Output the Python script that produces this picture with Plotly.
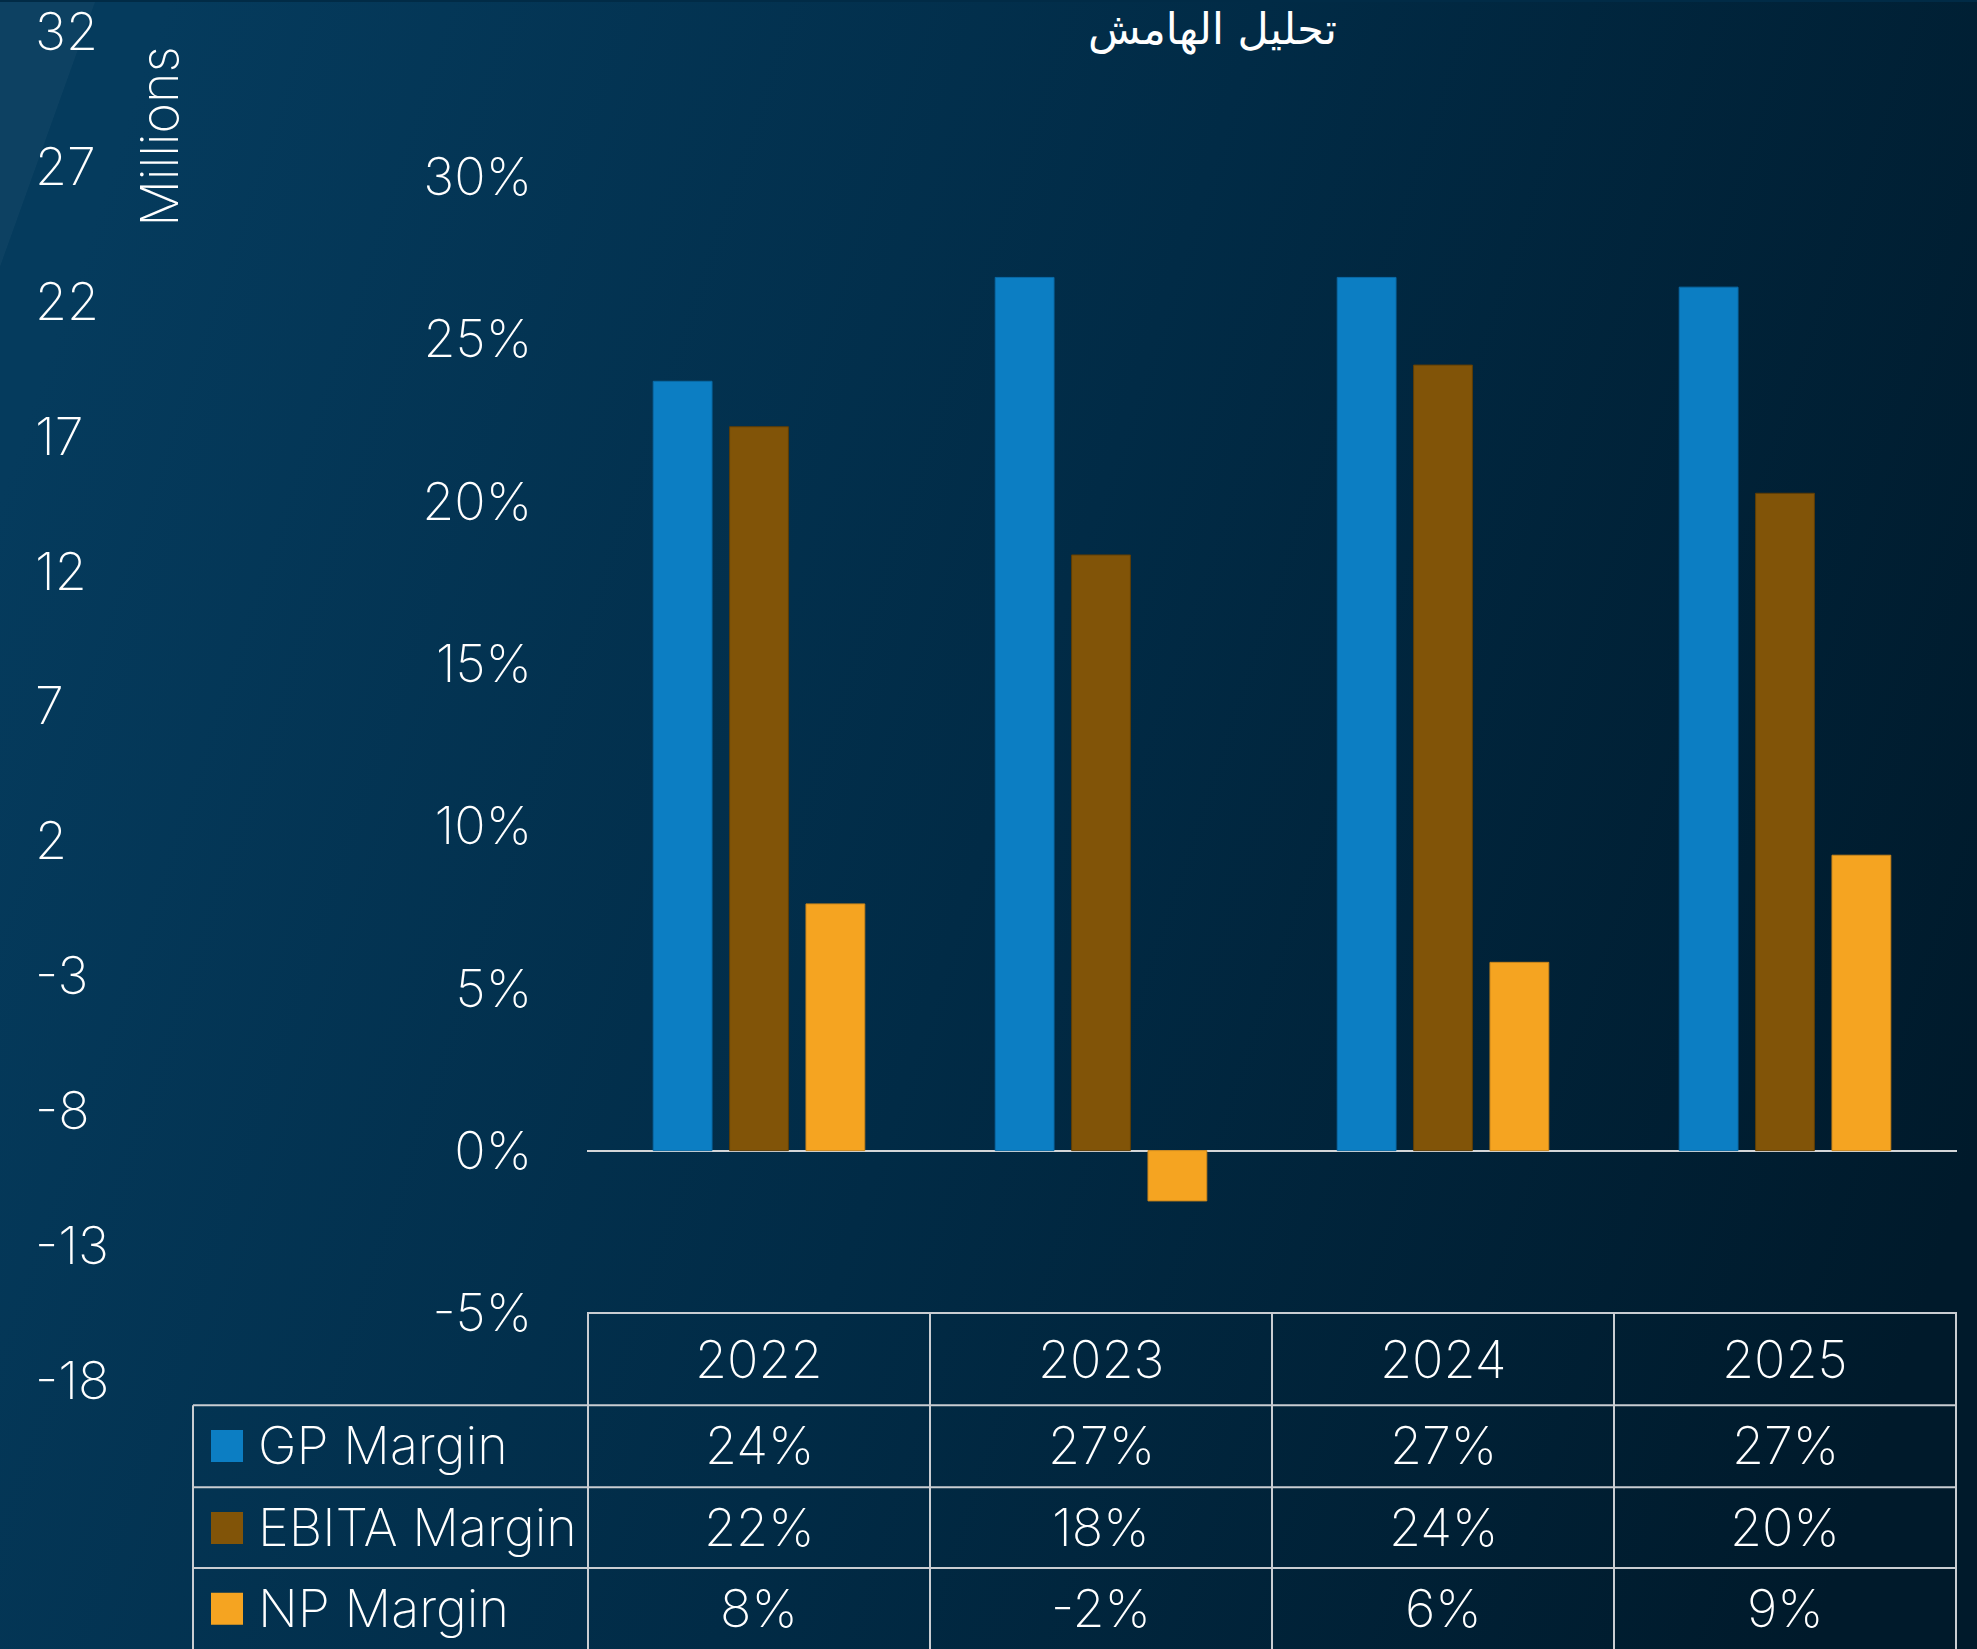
import base64
import plotly.graph_objects as go

# ---------------- data ----------------
years = ["2022", "2023", "2024", "2025"]
series_names = ["GP Margin", "EBITA Margin", "NP Margin"]
gp_margin = [23.7, 26.9, 26.9, 26.6]
ebita_margin = [22.3, 18.35, 24.2, 20.25]
np_margin = [7.6, -1.55, 5.8, 9.1]
pct_ticks = [-5, 0, 5, 10, 15, 20, 25, 30]
millions_ticks = [32, 27, 22, 17, 12, 7, 2, -3, -8, -13, -18]
title_text = "تحليل الهامش"
millions_title = "Millions"

# ---------------- style ----------------
W, H = 1977, 1649
colors = ["#0c7ec3", "#815408", "#f5a421"]
line_colors = ["#0a6aa6", "#5e3d05", "#c9851a"]
grid_col = "#c9cdd2"
FONT = "Inter"
FW = 200
FS = 52

X0, X1 = 587, 1957          # plot area in px
LEG_X0 = 193                 # left of legend column


def px_x(p):
    return p / W


def px_y(p):
    return 1 - p / H


# primary axis: 0% at y=1150 px, 32.5 px per percent
zero_px, per_pct = 1150, 32.5
y_range = [(zero_px - H) / per_pct, zero_px / per_pct]
# secondary axis: 32 at y=30 px, 27 px per unit
top_val_px, per_unit = 30, 27.0
y2_range = [32 - (H - top_val_px) / per_unit, 32 + top_val_px / per_unit]

# background gradient as SVG
svg = f'''<svg xmlns="http://www.w3.org/2000/svg" width="{W}" height="{H}" viewBox="0 0 {W} {H}">
<defs><linearGradient id="g" gradientUnits="userSpaceOnUse" x1="0" y1="495" x2="{W}" y2="1155">
<stop offset="0" stop-color="#053b5d"/>
<stop offset="0.5" stop-color="#012b46"/>
<stop offset="1" stop-color="#001a2b"/>
</linearGradient></defs>
<rect width="{W}" height="{H}" fill="url(#g)"/>
<path d="M0,0 L95,0 L0,265 Z" fill="#ffffff" fill-opacity="0.035"/>
</svg>'''
bg_src = "data:image/svg+xml;base64," + base64.b64encode(svg.encode()).decode()

fig = go.Figure()
for name, vals, c, lc in zip(series_names, [gp_margin, ebita_margin, np_margin], colors, line_colors):
    fig.add_trace(go.Bar(x=years, y=vals, name=name, marker=dict(color=c, line=dict(color=lc, width=1)),
                         showlegend=False, hoverinfo="skip"))
fig.add_trace(go.Scatter(x=[], y=[], yaxis="y2", showlegend=False, hoverinfo="skip"))

shapes = []
annotations = []
lw = dict(color=grid_col, width=2)
tfont = dict(family=FONT, size=FS, color="white", weight=FW)

# table geometry (px)
header_top = zero_px - pct_ticks[0] * per_pct  # aligned with -5%
row_lines = [1405, 1487, 1568]
row_h = 81.5

# horizontal lines
shapes.append(dict(type="line", xref="paper", yref="paper", x0=px_x(X0), x1=px_x(X1),
                   y0=px_y(header_top), y1=px_y(header_top), line=lw))
for r in row_lines:
    shapes.append(dict(type="line", xref="paper", yref="paper", x0=px_x(LEG_X0), x1=px_x(X1),
                       y0=px_y(r), y1=px_y(r), line=lw))
# vertical lines
for i in range(len(years) + 1):
    shapes.append(dict(type="line", xref="x", yref="paper", x0=i - 0.5, x1=i - 0.5,
                       y0=px_y(header_top), y1=0, line=lw))
shapes.append(dict(type="line", xref="paper", yref="paper", x0=px_x(LEG_X0), x1=px_x(LEG_X0),
                   y0=px_y(row_lines[0]), y1=0, line=lw))

# header years
for i, yr in enumerate(years):
    annotations.append(dict(x=i, xref="x", y=px_y((header_top + row_lines[0]) / 2), yref="paper",
                            text=yr, showarrow=False, xanchor="center", yanchor="middle", font=tfont))

# rows
for k, (name, vals, c) in enumerate(zip(series_names, [gp_margin, ebita_margin, np_margin], colors)):
    cy = row_lines[k] + row_h / 2
    shapes.append(dict(type="rect", xref="paper", yref="paper", x0=px_x(211), x1=px_x(243),
                       y0=px_y(cy - 16), y1=px_y(cy + 16), fillcolor=c, line=dict(width=0)))
    annotations.append(dict(x=px_x(256), xref="paper", y=px_y(cy), yref="paper", text=name,
                            showarrow=False, xanchor="left", yanchor="middle", font=tfont))
    for i, v in enumerate(vals):
        annotations.append(dict(x=i, xref="x", y=px_y(cy), yref="paper", text=f"{round(v)}%",
                                showarrow=False, xanchor="center", yanchor="middle", font=tfont))

# title and Millions
annotations.append(dict(x=px_x(1212), y=px_y(28), xref="paper", yref="paper", text=title_text,
                        showarrow=False, xanchor="center", yanchor="middle",
                        font=dict(family="DejaVu Sans", size=43, color="white")))
annotations.append(dict(x=px_x(160), y=px_y(135), xref="paper", yref="paper", text=millions_title,
                        showarrow=False, xanchor="center", yanchor="middle", textangle=-90,
                        font=tfont))

fig.update_layout(
    width=W, height=H,
    margin=dict(l=0, r=0, t=0, b=0),
    paper_bgcolor="#012b46",
    plot_bgcolor="rgba(0,0,0,0)",
    barmode="group", bargap=0.33, bargroupgap=0.23,
    images=[dict(source=bg_src, xref="paper", yref="paper", x=0, y=1, sizex=1, sizey=1,
                 sizing="stretch", layer="below", xanchor="left", yanchor="top")],
    xaxis=dict(domain=[px_x(X0), px_x(X1)], showticklabels=False, showgrid=False,
               zeroline=False, showline=False, ticks=""),
    yaxis=dict(domain=[0, 1], range=y_range, tickvals=pct_ticks,
               ticktext=[f"{t}%" for t in pct_ticks], showgrid=False,
               zeroline=True, zerolinecolor="#d4d6d8", zerolinewidth=2, showline=False, ticks="",
               ticklabelstandoff=54, ticklabeloverflow="allow", tickfont=tfont),
    yaxis2=dict(overlaying="y", anchor="free", position=px_x(34), side="right",
                range=y2_range, tickvals=millions_ticks, ticktext=[str(t) for t in millions_ticks],
                showgrid=False, zeroline=False, showline=False, ticks="",
                ticklabeloverflow="allow", tickfont=tfont),
    shapes=shapes,
    annotations=annotations,
)

fig.write_html("out.html", config={"displayModeBar": False},
               post_script="document.body.style.margin='0';document.body.style.overflow='hidden';")
